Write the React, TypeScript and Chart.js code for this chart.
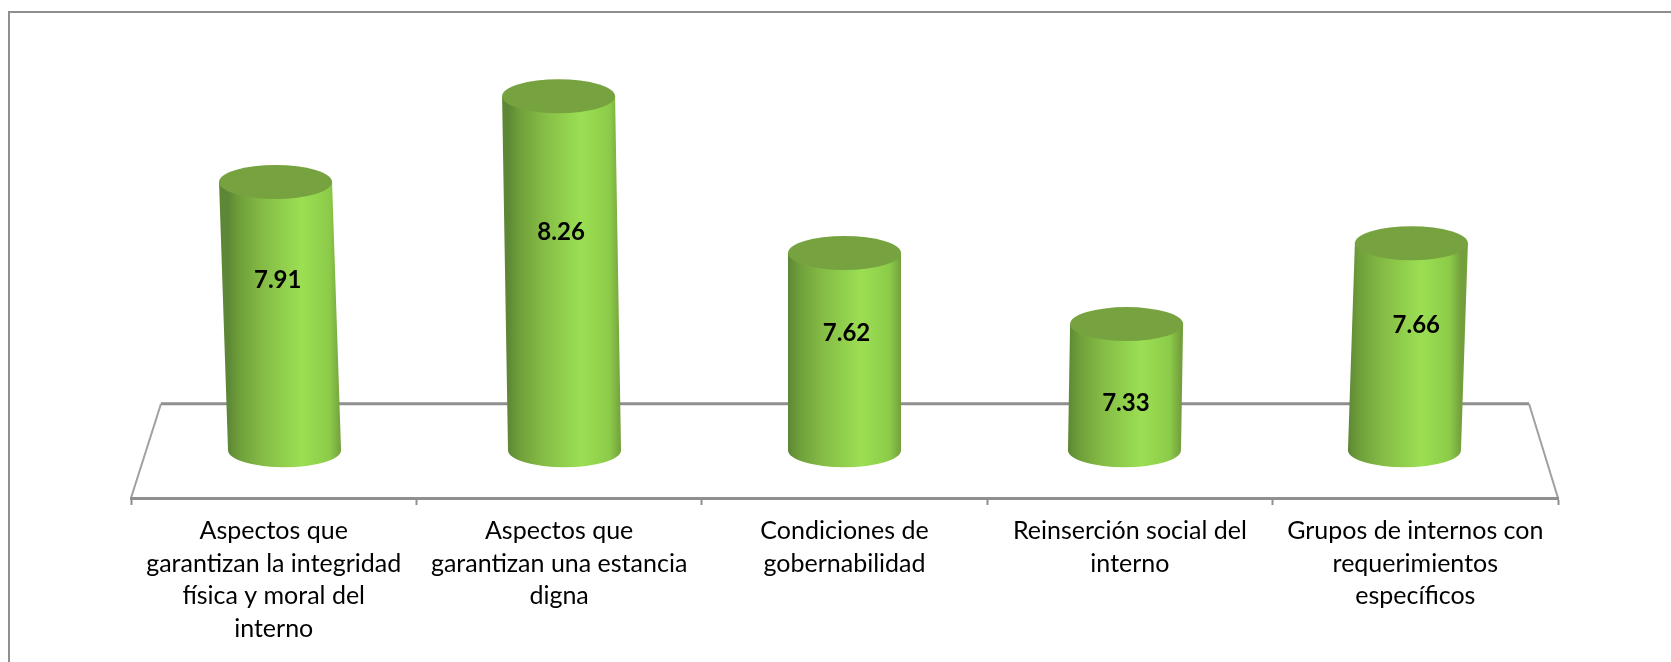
import React, { useEffect, useRef } from "react";
import { Chart, registerables } from "chart.js";

Chart.register(...registerables);

const categories: string[][] = [
  ["Aspectos que", "garantizan la integridad", "física y moral del", "interno"],
  ["Aspectos que", "garantizan una estancia", "digna"],
  ["Condiciones de", "gobernabilidad"],
  ["Reinserción social del", "interno"],
  ["Grupos de internos con", "requerimientos", "específicos"],
];
const scores: number[] = [7.91, 8.26, 7.62, 7.33, 7.66];
const labelRise: number[] = [98, 136, 80, 79, 82];
const labelShift: number[] = [4, 2, 2, -4, 1];

const GRAY = "#8f8f8f";
const FLOOR = 6.815;
const BACK_WALL = 7.005;
const FONT = "Lato, Carlito, sans-serif";

const cylinders = {
  id: "cylinders",
  beforeDraw(chart: any) {
    const { ctx, chartArea: a } = chart;
    ctx.save();
    ctx.fillStyle = "#ffffff";
    ctx.fillRect(0, 0, chart.width, chart.height);
    ctx.strokeStyle = GRAY;
    ctx.lineWidth = 2;
    ctx.beginPath();
    ctx.moveTo(9, chart.height);
    ctx.lineTo(9, 12);
    ctx.lineTo(chart.width, 12);
    ctx.stroke();
    const backY = chart.scales.y.getPixelForValue(BACK_WALL);
    ctx.lineWidth = 3;
    ctx.beginPath();
    ctx.moveTo(a.left + 30, backY);
    ctx.lineTo(a.right - 29, backY);
    ctx.stroke();
    ctx.lineWidth = 2;
    ctx.strokeStyle = "#a0a0a0";
    ctx.beginPath();
    ctx.moveTo(a.left, a.bottom);
    ctx.lineTo(a.left + 30, backY);
    ctx.moveTo(a.right, a.bottom);
    ctx.lineTo(a.right - 29, backY);
    ctx.stroke();
    ctx.restore();
  },
  afterDatasetsDraw(chart: any) {
    const { ctx, chartArea: a } = chart;
    const meta = chart.getDatasetMeta(0);
    const mid = (a.left + a.right) / 2;
    meta.data.forEach((bar: any, i: number) => {
      const rx = bar.width / 2;
      const ry = 17;
      const baseX = mid + (bar.x - mid) * 0.981;
      const h = bar.base - bar.y;
      const topX = baseX + (baseX - mid) * h * 0.00006;
      const grad = ctx.createLinearGradient(baseX - rx, 0, baseX + rx, 0);
      grad.addColorStop(0, "#5d8735");
      grad.addColorStop(0.1, "#6f9f3a");
      grad.addColorStop(0.3, "#84bb45");
      grad.addColorStop(0.65, "#9bdf53");
      grad.addColorStop(0.9, "#8ccb49");
      grad.addColorStop(1, "#739f3c");
      ctx.save();
      ctx.fillStyle = grad;
      ctx.beginPath();
      ctx.moveTo(topX - rx, bar.y);
      ctx.lineTo(baseX - rx, bar.base);
      ctx.ellipse(baseX, bar.base, rx, ry, 0, Math.PI, 0, true);
      ctx.lineTo(topX + rx, bar.y);
      ctx.closePath();
      ctx.fill();
      ctx.fillStyle = "#76a340";
      ctx.beginPath();
      ctx.ellipse(topX, bar.y, rx, ry, 0, 0, Math.PI * 2);
      ctx.fill();
      ctx.fillStyle = "#000000";
      ctx.font = `bold 24px ${FONT}`;
      ctx.textAlign = "center";
      ctx.textBaseline = "middle";
      ctx.fillText(scores[i].toFixed(2), bar.x + labelShift[i], bar.y + labelRise[i]);
      ctx.restore();
    });
  },
};

export default function App() {
  const ref = useRef<HTMLCanvasElement>(null);
  useEffect(() => {
    const chart = new Chart(ref.current!, {
      type: "bar",
      data: {
        labels: categories as any,
        datasets: [
          {
            data: scores,
            base: FLOOR,
            backgroundColor: "rgba(0,0,0,0)",
            barPercentage: 0.396,
            categoryPercentage: 1,
          },
        ],
      },
      options: {
        responsive: false,
        animation: false,
        layout: { padding: { left: 131, right: 113, top: 62, bottom: 0 } },
        plugins: { legend: { display: false }, tooltip: { enabled: false } },
        scales: {
          x: {
            afterFit(scale: any) {
              scale.height = 164;
            },
            border: { color: GRAY, width: 3 },
            grid: { drawOnChartArea: false, tickLength: 7, color: GRAY, tickWidth: 2 },
            ticks: {
              autoSkip: false,
              maxRotation: 0,
              minRotation: 0,
              padding: 10,
              color: "#000000",
              font: { family: FONT, size: 25, lineHeight: "32.5px" as any },
            },
          },
          y: { display: false, min: 6.62, max: 8.4 },
        },
      },
      plugins: [cylinders],
    });
    return () => chart.destroy();
  }, []);
  return (
    <div style={{ position: "fixed", left: 0, top: 0, width: 1671, height: 662, background: "#fff" }}>
      <canvas ref={ref} width={1671} height={662} style={{ display: "block" }} />
    </div>
  );
}
